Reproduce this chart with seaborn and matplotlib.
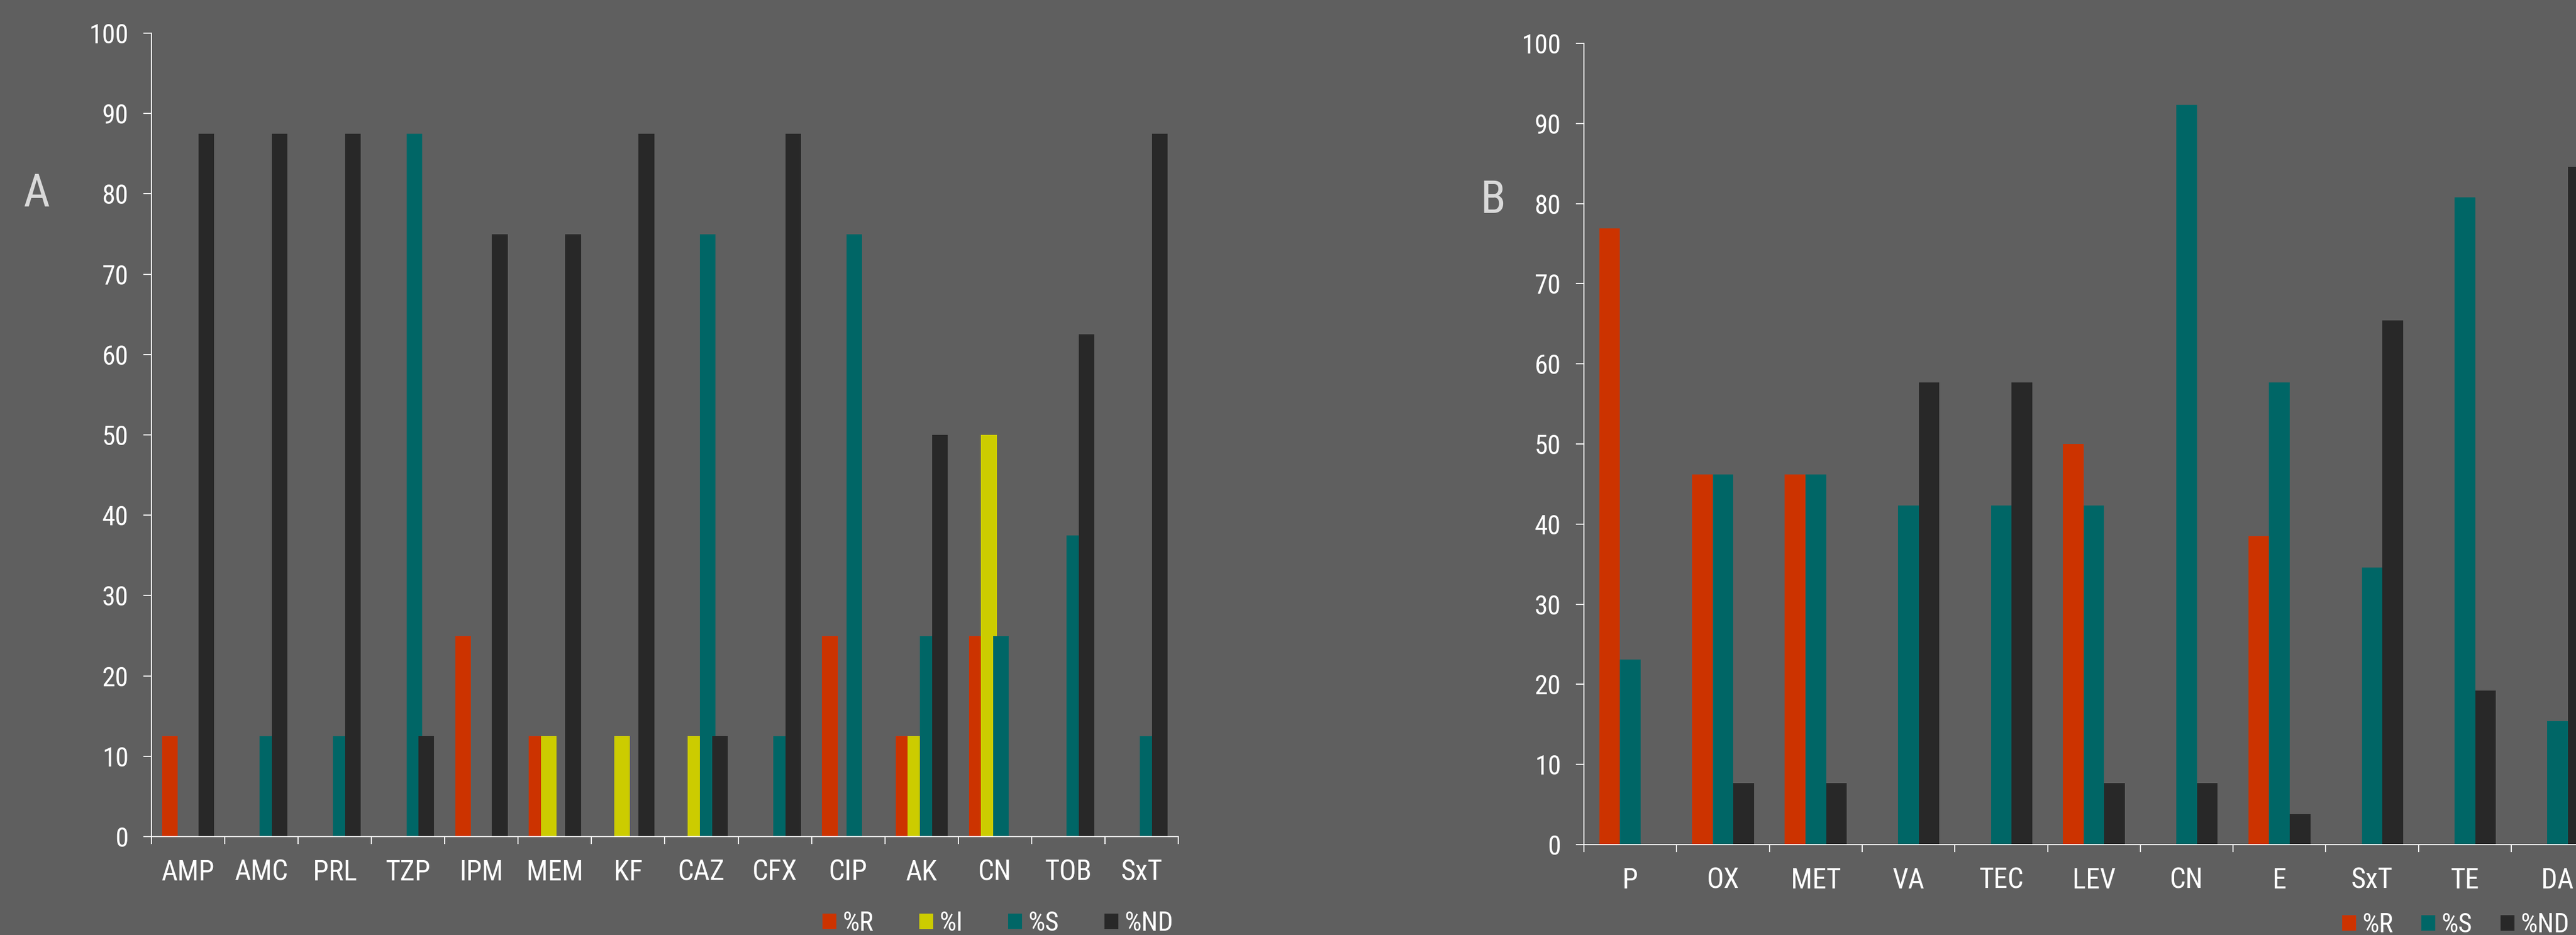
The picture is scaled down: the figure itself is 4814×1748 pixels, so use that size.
import numpy as np
import pandas as pd
import matplotlib
matplotlib.use("Agg")
import matplotlib.pyplot as plt
from matplotlib.patches import Patch
import seaborn as sns

# ---------------- data ----------------
cats_a = ["AMP", "AMC", "PRL", "TZP", "IPM", "MEM", "KF", "CAZ", "CFX", "CIP", "AK", "CN", "TOB", "SxT"]
a_R  = [12.5, 0, 0, 0, 25, 12.5, 0, 0, 0, 25, 12.5, 25, 0, 0]
a_I  = [0, 0, 0, 0, 0, 12.5, 12.5, 12.5, 0, 0, 12.5, 50, 0, 0]
a_S  = [0, 12.5, 12.5, 87.5, 0, 0, 0, 75, 12.5, 75, 25, 25, 37.5, 12.5]
a_ND = [87.5, 87.5, 87.5, 12.5, 75, 75, 87.5, 12.5, 87.5, 0, 50, 0, 62.5, 87.5]

cats_b = ["P", "OX", "MET", "VA", "TEC", "LEV", "CN", "E", "SxT", "TE", "DA"]
b_R  = [76.9, 46.2, 46.2, 0, 0, 50.0, 0, 38.5, 0, 0, 0]
b_S  = [23.1, 46.2, 46.2, 42.3, 42.3, 42.3, 92.3, 57.7, 34.6, 80.8, 15.4]
b_ND = [0, 7.7, 7.7, 57.7, 57.7, 7.7, 7.7, 3.8, 65.4, 19.2, 84.6]

series_a = ["%R", "%I", "%S", "%ND"]
series_b = ["%R", "%S", "%ND"]
yticks = list(range(0, 101, 10))

colors = {"%R": "#CC3300", "%I": "#CCCC00", "%S": "#006666", "%ND": "#282828"}
BG = "#5F5F5F"
FG = "white"

sns.set_style("ticks")
plt.rcParams["font.family"] = ["Liberation Sans Narrow", "Arial Narrow", "Roboto Condensed",
                               "Archivo Narrow", "PT Sans Narrow", "Fira Sans Condensed",
                               "Liberation Sans", "DejaVu Sans"]
plt.rcParams["axes.facecolor"] = BG
plt.rcParams["figure.facecolor"] = BG
plt.rcParams["savefig.facecolor"] = BG

df_a = pd.DataFrame({
    "cat": [c for c in cats_a for _ in series_a],
    "series": [s for _ in cats_a for s in series_a],
    "val": [v for i in range(len(cats_a)) for v in (a_R[i], a_I[i], a_S[i], a_ND[i])],
})
df_b = pd.DataFrame({
    "cat": [c for c in cats_b for _ in series_b],
    "series": [s for _ in cats_b for s in series_b],
    "val": [v for i in range(len(cats_b)) for v in (b_R[i], b_S[i], b_ND[i])],
})

W, H = 4814, 1748
fig = plt.figure(figsize=(W / 100, H / 100), dpi=100)

ax_a = fig.add_axes([283 / W, 1 - 1564 / H, (2202 - 283) / W, (1564 - 62) / H])
ax_b = fig.add_axes([2960 / W, 1 - 1579 / H, 11 * 173.3 / W, (1579 - 81) / H])

sns.barplot(data=df_a, x="cat", y="val", hue="series", order=cats_a, hue_order=series_a,
            palette=colors, width=0.664, gap=0, dodge=True, legend=False, ax=ax_a,
            linewidth=0, saturation=1, errorbar=None)
# Excel-style overlapping bars: widen each bar about its centre
for p in ax_a.patches:
    c = p.get_x() + p.get_width() / 2
    p.set_width(0.213)
    p.set_x(c - 0.213 / 2)

sns.barplot(data=df_b, x="cat", y="val", hue="series", order=cats_b, hue_order=series_b,
            palette=colors, width=0.668, gap=0, dodge=True, legend=False, ax=ax_b,
            linewidth=0, saturation=1, errorbar=None)

for ax, cats in ((ax_a, cats_a), (ax_b, cats_b)):
    n = len(cats)
    ax.set_facecolor(BG)
    ax.set_xlim(-0.5, n - 0.5)
    ax.set_ylim(0, 100)
    ax.set_yticks(yticks)
    ax.set_xlabel("")
    ax.set_ylabel("")
    ax.set_xticks(range(n))
    ax.set_xticklabels(cats)
    ax.set_xticks(np.arange(-0.5, n, 1.0), minor=True)
    ax.tick_params(axis="x", which="major", length=0, pad=30, labelsize=38, colors=FG)
    ax.tick_params(axis="x", which="minor", length=10, width=1.5, color=FG)
    ax.tick_params(axis="y", which="major", length=11, width=1.5, pad=20, labelsize=36, colors=FG)
    for s in ("top", "right"):
        ax.spines[s].set_visible(False)
    for s in ("left", "bottom"):
        ax.spines[s].set_color(FG)
        ax.spines[s].set_linewidth(1.5)
    ax.grid(False)

# panel letters
fig.text(68 / W, 1 - 362 / H, "A", color="#D9D9D9", fontsize=62, ha="center", va="center")
fig.text(2790 / W, 1 - 375 / H, "B", color="#D9D9D9", fontsize=62, ha="center", va="center")

# legends
h_a = [Patch(facecolor=colors[s], edgecolor="none", label=s) for s in series_a]
h_b = [Patch(facecolor=colors[s], edgecolor="none", label=s) for s in series_b]
leg_kw = dict(frameon=False, fontsize=36, handlelength=0.52, handleheight=0.52,
              handletextpad=0.23, borderpad=0, borderaxespad=0,
              labelcolor=FG, loc="center left")
fig.legend(handles=h_a, ncol=4, columnspacing=1.7, bbox_to_anchor=(1537 / W, 1 - 1726 / H), **leg_kw)
fig.legend(handles=h_b, ncol=3, columnspacing=1.05, bbox_to_anchor=(4377 / W, 1 - 1729 / H), **leg_kw)

fig.savefig("out.png", dpi=100, facecolor=BG)
